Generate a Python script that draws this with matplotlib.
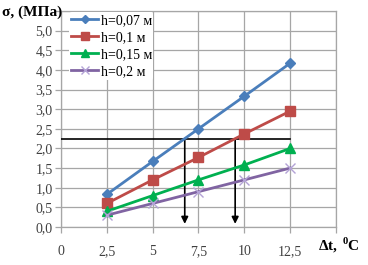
import matplotlib
matplotlib.use("Agg")
import matplotlib.pyplot as plt

plt.rcParams['mathtext.fontset'] = 'custom'
plt.rcParams['mathtext.rm'] = 'Liberation Serif'
plt.rcParams['mathtext.bf'] = 'Liberation Serif:bold'

dt = [2.5, 5, 7.5, 10, 12.5]
s_007 = [0.83, 1.67, 2.5, 3.33, 4.17]
s_01 = [0.6, 1.2, 1.77, 2.37, 2.95]
s_015 = [0.4, 0.8, 1.2, 1.58, 2.0]
s_02 = [0.3, 0.6, 0.9, 1.2, 1.5]
labels = ["h=0,07 м", "h=0,1 м", "h=0,15 м", "h=0,2 м"]

x_ticks = [0, 2.5, 5, 7.5, 10, 12.5, 15]
x_tick_labels = ["0", "2,5", "5", "7,5", "10", "12,5", ""]
y_ticks = [0, 0.5, 1, 1.5, 2, 2.5, 3, 3.5, 4, 4.5, 5, 5.5]
y_tick_labels = ["0,0", "0,5", "1,0", "1,5", "2,0", "2,5", "3,0", "3,5", "4,0", "4,5", "5,0", ""]

level = 2.25
arrow_x = [6.75, 9.5]
arrow_end = 0.08

fig = plt.figure(figsize=(3.68, 2.65), dpi=100)
ax = fig.add_axes([0.1658, 0.1434, 0.7472, 0.8151])
serif = 'Liberation Serif'

ax.set_xlim(0, 15)
ax.set_ylim(0, 5.5)
ax.set_xticks(x_ticks)
ax.set_xticklabels(x_tick_labels, fontfamily=serif, fontsize=10)
ax.set_yticks(y_ticks)
ax.set_yticklabels(y_tick_labels, fontfamily=serif, fontsize=10)
ax.grid(True, color='#A6A6A6', lw=0.9)
ax.set_axisbelow(True)
for s in ax.spines.values():
    s.set_color('#A6A6A6')
    s.set_linewidth(0.9)
ax.tick_params(axis='both', colors='#A6A6A6', labelcolor='#404040', length=4, width=0.9)
ax.tick_params(axis='x', pad=9)
ax.tick_params(axis='y', pad=2)

ax.plot(dt, s_007, color='#4A7EBB', lw=2, marker='D', ms=5, label=labels[0], zorder=4)
ax.plot(dt, s_01, color='#BE4B48', lw=2, marker='s', ms=7, label=labels[1], zorder=4)
ax.plot(dt, s_015, color='#00B050', lw=2, marker='^', ms=7, label=labels[2], zorder=4)
ax.plot(dt, s_02, color='#8064A2', lw=2, marker='x', ms=7, mec='#B3A2D6', mew=1, label=labels[3], zorder=4)

ax.plot([0, 12.5], [level, level], color='black', lw=1.2, zorder=3)
for xa in arrow_x:
    ax.annotate('', xy=(xa, arrow_end), xytext=(xa, level),
                arrowprops=dict(arrowstyle='-|>', color='black', lw=1.2,
                                mutation_scale=10, shrinkA=0, shrinkB=0), zorder=3)

leg = ax.legend(loc='upper left', bbox_to_anchor=(0.025, 1.0), frameon=True,
                prop={'family': serif, 'size': 10}, handlelength=2.0,
                handletextpad=0.15, labelspacing=0.3, borderpad=0.1,
                borderaxespad=0.1, markerscale=0.75)
leg.get_frame().set_edgecolor('none')
leg.get_frame().set_facecolor('white')
leg.get_frame().set_alpha(1)

fig.text(0.005, 0.955, "σ, (МПа)", fontfamily=serif, fontweight='bold', fontsize=11,
         ha='left', va='center')
fig.text(0.865, 0.075, r"$\mathbf{\Delta t,}\,{}^{\mathbf{0}}\mathbf{C}$", fontsize=11, ha='left', va='center')

fig.savefig("out.png", dpi=100)
